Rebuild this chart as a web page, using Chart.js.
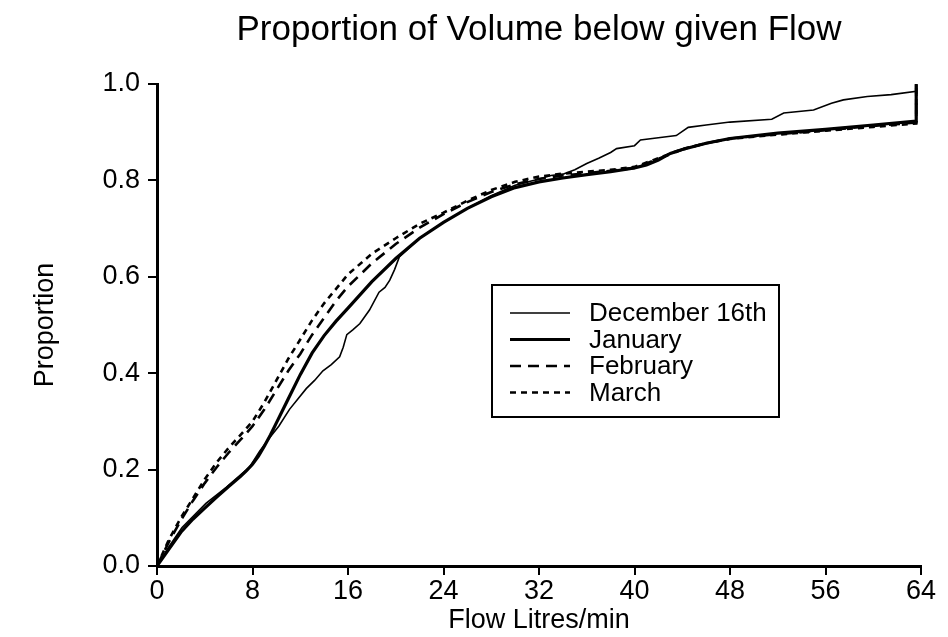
<!DOCTYPE html>
<html lang="en">
<head>
<meta charset="UTF-8">
<title>Proportion of Volume below given Flow</title>
<script src="https://cdn.jsdelivr.net/npm/chart.js"></script>
<style>
  html, body { margin: 0; padding: 0; background: #fff; }
  #wrap { width: 948px; height: 637px; }
</style>
</head>
<body>
<div id="wrap"><canvas id="chart"></canvas></div>
<script>
// values (flow in litres/min, cumulative proportion)
const flowDec = [0, 1, 2.1, 4.1, 5.8, 7.75, 8.6, 9.4, 10.2, 11.1, 12.5, 13.2, 13.9, 14.6, 15.3, 15.6, 15.9, 16.4, 17.0, 17.8, 18.6, 19.1, 19.5, 19.9, 20.3, 22, 24, 26, 28, 30, 32, 33, 34, 35, 36, 37, 38, 38.5, 40, 40.5, 42.5, 43.5, 44.5, 46, 48, 51.5, 52.5, 55, 56.5, 57.5, 59.5, 61.5, 63.6, 63.6];
const propDec = [0, 0.04, 0.08, 0.13, 0.163, 0.205, 0.238, 0.265, 0.29, 0.325, 0.368, 0.385, 0.405, 0.418, 0.434, 0.454, 0.48, 0.49, 0.503, 0.531, 0.568, 0.578, 0.593, 0.615, 0.641, 0.68, 0.713, 0.742, 0.768, 0.79, 0.803, 0.81, 0.813, 0.822, 0.835, 0.846, 0.858, 0.866, 0.872, 0.884, 0.89, 0.893, 0.91, 0.915, 0.921, 0.927, 0.94, 0.946, 0.96, 0.967, 0.974, 0.978, 0.985, 1.0];

const flowJan = [0, 1, 2, 3, 4, 5, 6, 7, 7.5, 8, 8.5, 9, 9.5, 10, 11, 12, 13, 14, 15, 16, 18, 20, 22, 24, 26, 28, 30, 32, 34, 36, 38, 40, 41, 42, 43, 44, 46, 48, 52, 56, 60, 63.6, 63.6];
const propJan = [0, 0.035, 0.07, 0.097, 0.12, 0.143, 0.165, 0.186, 0.198, 0.211, 0.228, 0.249, 0.272, 0.297, 0.347, 0.397, 0.442, 0.478, 0.508, 0.535, 0.59, 0.638, 0.68, 0.713, 0.742, 0.766, 0.785, 0.797, 0.805, 0.812, 0.818, 0.826, 0.832, 0.842, 0.856, 0.864, 0.877, 0.887, 0.898, 0.906, 0.915, 0.923, 1.0];

const flowFeb = [0, 1, 2, 3, 4, 5, 6, 7, 8, 9, 10, 11, 12, 13, 14, 15, 16, 18, 20, 22, 24, 26, 28, 30, 32, 34, 36, 38, 40, 42, 44, 46, 48, 52, 56, 60, 63.6, 63.6];
const propFeb = [0, 0.05, 0.095, 0.135, 0.172, 0.205, 0.235, 0.262, 0.29, 0.325, 0.365, 0.405, 0.44, 0.48, 0.515, 0.55, 0.58, 0.628, 0.668, 0.702, 0.73, 0.755, 0.776, 0.792, 0.803, 0.81, 0.815, 0.82, 0.826, 0.845, 0.864, 0.877, 0.887, 0.896, 0.904, 0.913, 0.92, 1.0];

const flowMar = [0, 1, 2, 3, 4, 5, 6, 7, 8, 9, 10, 11, 12, 13, 14, 15, 16, 18, 20, 22, 24, 26, 28, 30, 32, 34, 36, 38, 40, 42, 44, 46, 48, 52, 56, 60, 63.6, 63.6];
const propMar = [0, 0.055, 0.10, 0.14, 0.18, 0.215, 0.245, 0.272, 0.30, 0.34, 0.385, 0.43, 0.47, 0.51, 0.545, 0.575, 0.605, 0.648, 0.68, 0.71, 0.733, 0.758, 0.78, 0.797, 0.808, 0.814, 0.818, 0.822, 0.828, 0.846, 0.865, 0.877, 0.886, 0.895, 0.903, 0.911, 0.918, 1.0];

const seriesNames = ['December 16th', 'January', 'February', 'March'];
const xTickStep = 8;
const yTickStep = 0.2;

const FONT = "'Liberation Sans', Arial, Helvetica, sans-serif";

function toPoints(xs, ys) {
  return xs.map((x, i) => ({ x: x, y: ys[i] }));
}

// boxed legend inside the plot, like the original
const boxLegend = {
  id: 'boxLegend',
  afterDraw(chart) {
    const ctx = chart.ctx;
    const area = chart.chartArea;
    const left = area.left + 335, top = area.top + 201;
    const w = 287, h = 132;
    ctx.save();
    ctx.strokeStyle = '#000';
    ctx.lineWidth = 2;
    ctx.setLineDash([]);
    ctx.strokeRect(left, top, w, h);
    ctx.font = '26px ' + FONT;
    ctx.fillStyle = '#000';
    ctx.textBaseline = 'middle';
    chart.data.datasets.forEach((ds, i) => {
      const y = top + 28 + i * 26.5;
      ctx.beginPath();
      ctx.lineWidth = ds.borderWidth;
      ctx.setLineDash(ds.borderDash || []);
      ctx.moveTo(left + 18, y);
      ctx.lineTo(left + 78, y);
      ctx.stroke();
      ctx.setLineDash([]);
      ctx.fillText(ds.label, left + 97, y + 1);
    });
    ctx.restore();
  }
};

new Chart(document.getElementById('chart'), {
  type: 'line',
  data: {
    datasets: [
      { label: seriesNames[0], data: toPoints(flowDec, propDec), borderColor: '#000', borderWidth: 1.6, pointRadius: 0, tension: 0 },
      { label: seriesNames[1], data: toPoints(flowJan, propJan), borderColor: '#000', borderWidth: 3.2, pointRadius: 0, tension: 0 },
      { label: seriesNames[2], data: toPoints(flowFeb, propFeb), borderColor: '#000', borderWidth: 2.6, borderDash: [11, 7], pointRadius: 0, tension: 0 },
      { label: seriesNames[3], data: toPoints(flowMar, propMar), borderColor: '#000', borderWidth: 2.6, borderDash: [6, 5], pointRadius: 0, tension: 0 }
    ]
  },
  options: {
    responsive: true,
    maintainAspectRatio: false,
    animation: false,
    devicePixelRatio: 1,
    layout: { padding: { left: 0, right: 27, top: 0, bottom: 0 } },
    plugins: {
      legend: { display: false },
      tooltip: { enabled: false },
      title: {
        display: true,
        text: 'Proportion of Volume below given Flow',
        color: '#000',
        fullSize: false,
        font: { family: FONT, size: 35, weight: 'normal' },
        padding: { top: 9, bottom: 33 }
      }
    },
    scales: {
      x: {
        type: 'linear',
        min: 0,
        max: 64,
        ticks: { stepSize: xTickStep, color: '#000', padding: 0, font: { family: FONT, size: 27 } },
        grid: { drawOnChartArea: false, drawTicks: true, tickLength: 9, color: '#000', lineWidth: 2 },
        border: { display: true, color: '#000', width: 3 },
        title: { display: true, text: 'Flow Litres/min', color: '#000', font: { family: FONT, size: 27 }, padding: { top: 0, bottom: 0 } },
        afterFit(scale) { scale.height = 71; }
      },
      y: {
        min: 0,
        max: 1,
        ticks: { stepSize: yTickStep, color: '#000', padding: 8, font: { family: FONT, size: 27 }, callback: v => v.toFixed(1) },
        grid: { drawOnChartArea: false, drawTicks: true, tickLength: 9, color: '#000', lineWidth: 2 },
        border: { display: true, color: '#000', width: 3 },
        title: { display: true, text: 'Proportion', color: '#000', font: { family: FONT, size: 27 }, padding: { top: 29, bottom: 0 } },
        afterFit(scale) { scale.width = 157; }
      }
    }
  },
  plugins: [boxLegend]
});
</script>
</body>
</html>
